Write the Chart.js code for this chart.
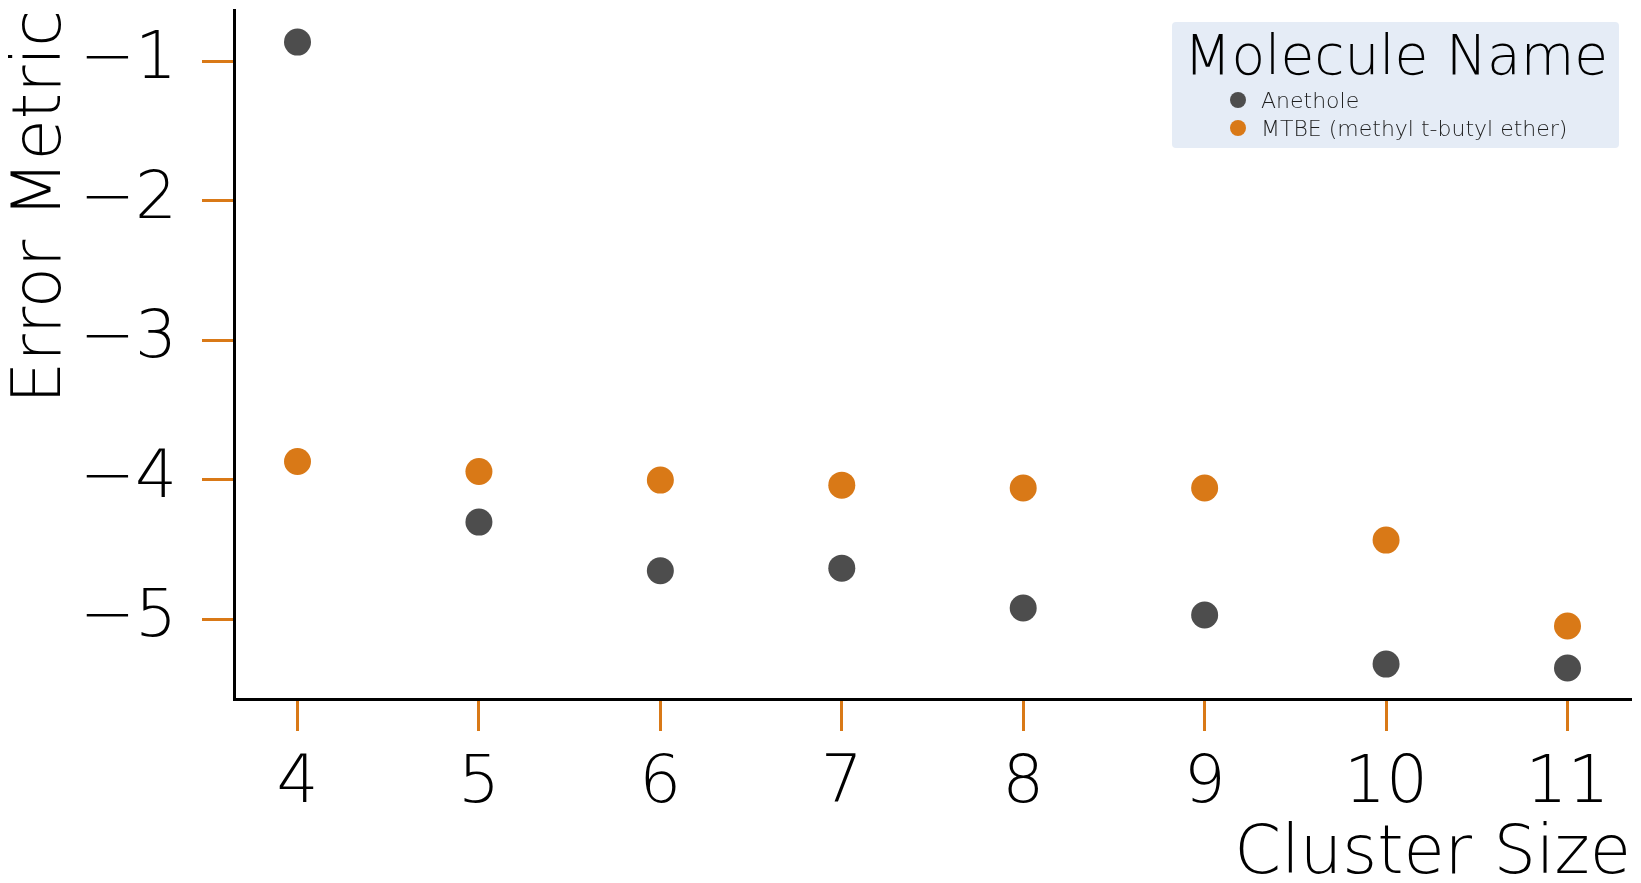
<!DOCTYPE html>
<html>
<head>
<meta charset="utf-8">
<script src="https://cdn.jsdelivr.net/npm/chart.js@4.4.1/dist/chart.umd.min.js"></script>
<style>
  html, body { margin: 0; padding: 0; background: #ffffff; }
  #wrap { width: 1641px; height: 883px; position: relative; }
</style>
</head>
<body>
<div id="wrap"><canvas id="c" width="1641" height="883"></canvas></div>
<script>
// ---- data ----
const clusterSizes = [4, 5, 6, 7, 8, 9, 10, 11];
const anetholeValues = [-0.864, -4.305, -4.654, -4.635, -4.921, -4.971, -5.323, -5.351];
const mtbeValues = [-3.870, -3.942, -4.004, -4.040, -4.061, -4.061, -4.434, -5.050];
const seriesNames = ['Anethole', 'MTBE (methyl t-butyl ether)'];
const xTickValues = [4, 5, 6, 7, 8, 9, 10, 11];
const yTickValues = [-1, -2, -3, -4, -5];
const legendTitle = 'Molecule Name';
const xAxisTitle = 'Cluster Size';
const yAxisTitle = 'Error Metric';

const GRAY = '#4d4d4d';
const ORANGE = '#d97917';
const FONT = "'DejaVu Sans', sans-serif";

const legendPlugin = {
  id: 'customLegend',
  afterDraw(chart) {
    const ctx = chart.ctx;
    const x0 = 1172, y0 = 22, w = 447, h = 126, r = 4;
    ctx.save();
    ctx.fillStyle = '#E5ECF6';
    ctx.beginPath();
    ctx.moveTo(x0 + r, y0);
    ctx.lineTo(x0 + w - r, y0);
    ctx.quadraticCurveTo(x0 + w, y0, x0 + w, y0 + r);
    ctx.lineTo(x0 + w, y0 + h - r);
    ctx.quadraticCurveTo(x0 + w, y0 + h, x0 + w - r, y0 + h);
    ctx.lineTo(x0 + r, y0 + h);
    ctx.quadraticCurveTo(x0, y0 + h, x0, y0 + h - r);
    ctx.lineTo(x0, y0 + r);
    ctx.quadraticCurveTo(x0, y0, x0 + r, y0);
    ctx.closePath();
    ctx.fill();

    ctx.fillStyle = '#000000';
    ctx.font = '200 55px ' + FONT;
    ctx.textBaseline = 'alphabetic';
    ctx.textAlign = 'left';
    ctx.fillText(legendTitle, 1184, 74);

    ctx.font = '200 22px ' + FONT;
    chart.data.datasets.forEach((ds, i) => {
      const cy = 100 + i * 28;
      ctx.fillStyle = ds.backgroundColor;
      ctx.beginPath();
      ctx.arc(1238, cy, 8, 0, Math.PI * 2);
      ctx.fill();
      ctx.fillStyle = '#1e1e1e';
      ctx.fillText(ds.label, 1261, cy + 8);
    });
    ctx.restore();
  }
};

new Chart(document.getElementById('c'), {
  type: 'scatter',
  data: {
    datasets: [
      {
        label: seriesNames[0],
        data: clusterSizes.map((x, i) => ({ x: x, y: anetholeValues[i] })),
        backgroundColor: GRAY,
        borderWidth: 0,
        pointRadius: 13.5,
        pointHoverRadius: 13.5
      },
      {
        label: seriesNames[1],
        data: clusterSizes.map((x, i) => ({ x: x, y: mtbeValues[i] })),
        backgroundColor: ORANGE,
        borderWidth: 0,
        pointRadius: 13.5,
        pointHoverRadius: 13.5
      }
    ]
  },
  options: {
    responsive: false,
    animation: false,
    events: [],
    layout: { autoPadding: false, padding: { top: 10, right: 10, left: 0, bottom: 0 } },
    plugins: {
      legend: { display: false },
      tooltip: { enabled: false }
    },
    scales: {
      x: {
        type: 'linear',
        min: 3.65,
        max: 11.35,
        afterBuildTicks: (axis) => { axis.ticks = xTickValues.map(v => ({ value: v })); },
        afterFit: (axis) => { axis.height = 184; axis.paddingLeft = 0; axis.paddingRight = 0; },
        grid: {
          display: true,
          drawOnChartArea: false,
          drawTicks: true,
          tickLength: 32,
          tickWidth: 3,
          tickColor: ORANGE
        },
        border: { display: true, color: '#000000', width: 3 },
        ticks: {
          color: '#000000',
          padding: 14,
          font: { family: FONT, size: 66, weight: 200 },
          maxRotation: 0,
          autoSkip: false
        },
        title: {
          display: true,
          text: xAxisTitle,
          align: 'end',
          color: '#000000',
          font: { family: FONT, size: 67, weight: 200 },
          padding: { top: -13, bottom: -13 }
        }
      },
      y: {
        type: 'linear',
        min: -5.573,
        max: -0.634,
        afterBuildTicks: (axis) => { axis.ticks = yTickValues.map(v => ({ value: v })); },
        afterFit: (axis) => { axis.width = 234; axis.paddingTop = 0; axis.paddingBottom = 0; },
        grid: {
          display: true,
          drawOnChartArea: false,
          drawTicks: true,
          tickLength: 32,
          tickWidth: 3,
          tickColor: ORANGE
        },
        border: { display: true, color: '#000000', width: 3 },
        ticks: {
          color: '#000000',
          padding: 25,
          font: { family: FONT, size: 66, weight: 200 },
          callback: (v) => (v < 0 ? '\u2212' + Math.abs(v) : String(v))
        },
        title: {
          display: true,
          text: yAxisTitle,
          align: 'end',
          color: '#000000',
          font: { family: FONT, size: 67, weight: 200 },
          padding: { top: 2, bottom: 2 }
        }
      }
    }
  },
  plugins: [legendPlugin]
});
</script>
</body>
</html>
